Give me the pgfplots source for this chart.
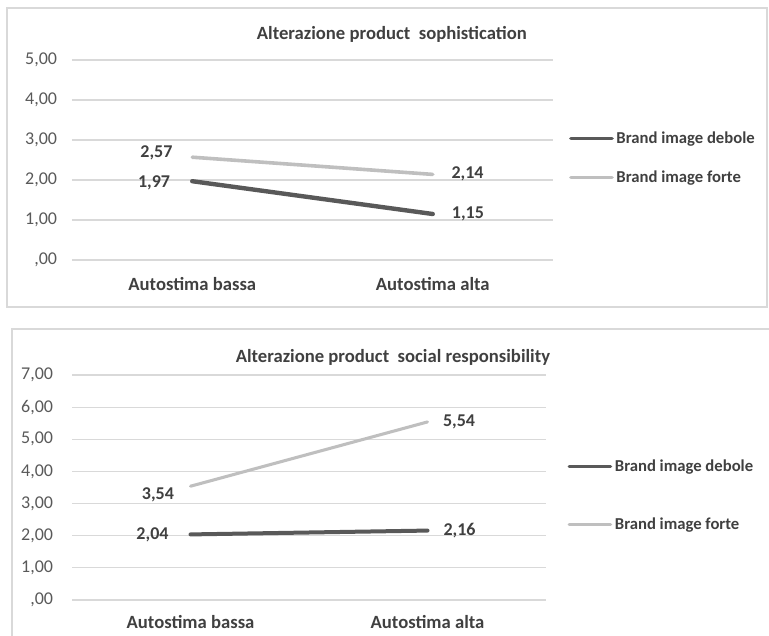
\documentclass[border=0pt]{standalone}
\usepackage{fontspec}
\setmainfont{Carlito}
\usepackage{pgfplots}
\pgfplotsset{compat=1.18}
\definecolor{dk}{HTML}{595959}
\definecolor{lt}{HTML}{BFBFBF}
\definecolor{gridc}{HTML}{D9D9D9}
\definecolor{txt}{HTML}{404040}
\definecolor{tickc}{HTML}{595959}
\definecolor{borderc}{HTML}{D9D9D9}

\pgfplotsset{
  mystyle/.style={
    scale only axis, clip=false,
    xmin=-0.5, xmax=1.5,
    xtick={0,1}, xticklabels={Autostima bassa, Autostima alta},
    axis line style={draw=none},
    major tick length=0pt,
    ymajorgrids, grid style={gridc, line width=0.9pt},
    xticklabel style={font=\fontsize{14}{16}\selectfont\bfseries, text=txt, anchor=base, inner sep=0pt},
    yticklabel style={font=\fontsize{13.5}{16}\selectfont, text=tickc, anchor=east, inner sep=0pt},
    legend style={draw=none, fill=none, font=\fontsize{12.5}{15}\selectfont\bfseries, text=txt, inner sep=0pt},
    legend cell align=left,
    legend image code/.code={\draw[##1, line width=2.5pt, line cap=round] (0pt,0pt) -- (31pt,0pt);},
  },
  lab/.style={
    nodes near coords, point meta=explicit symbolic,
    visualization depends on={value \thisrow{anc}\as\anc},
    visualization depends on={value \thisrow{dx}\as\dx},
    visualization depends on={value \thisrow{dy}\as\dy},
    every node near coord/.append style={anchor=\anc, xshift=\dx pt, yshift=\dy pt,
      font=\fontsize{13.5}{16}\selectfont\bfseries, text=txt, inner sep=0pt},
  },
}

\begin{document}
\begin{tikzpicture}
\path[use as bounding box] (0,0) rectangle (576.75pt,477pt);
\clip (0,0) rectangle (576.75pt,477pt);
\draw[borderc, line width=1.1pt] (5.25pt,246.75pt) rectangle (575.25pt,471pt);
\draw[borderc, line width=1.1pt] (9pt,-5pt) rectangle (590pt,230.25pt);

% Top chart
\begin{axis}[mystyle,
  at={(54pt,282pt)}, anchor=south west,
  width=360.75pt, height=150pt,
  ymin=0, ymax=5, ytick={0,1,2,3,4,5},
  yticklabels={{,00},{1,00},{2,00},{3,00},{4,00},{5,00}},
  yticklabel style={xshift=-11pt},
  xticklabel style={yshift=-23pt},
  legend style={at={(1.033,0.51)}, anchor=west, row sep=14.5pt},
]
\addplot[dk, line width=3.3pt, line cap=round, lab] table[x=x, y=y, meta=lab] {
x y lab anc dx dy
0 1.97 1,97 east -15 -1.5
1 1.15 1,15 west 12.75 0
};
\addlegendentry{Brand image debole}
\addplot[lt, line width=2.7pt, line cap=round, lab] table[x=x, y=y, meta=lab] {
x y lab anc dx dy
0 2.57 2,57 east -13.5 3
1 2.14 2,14 west 12.75 0.5
};
\addlegendentry{Brand image forte}
\node[font=\fontsize{14}{16}\selectfont\bfseries, text=txt] at (axis description cs:0.665,1.13) {Alterazione product\ \ sophistication};
\end{axis}

% Bottom chart
\begin{axis}[mystyle,
  at={(54pt,27pt)}, anchor=south west,
  width=355.5pt, height=168.75pt,
  ymin=0, ymax=7, ytick={0,1,2,3,4,5,6,7},
  yticklabels={{,00},{1,00},{2,00},{3,00},{4,00},{5,00},{6,00},{7,00}},
  yticklabel style={xshift=-14pt},
  xticklabel style={yshift=-21.75pt},
  legend style={at={(1.045,0.465)}, anchor=west, row sep=29pt},
]
\addplot[dk, line width=3pt, line cap=round, lab] table[x=x, y=y, meta=lab] {
x y lab anc dx dy
0 2.04 2,04 east -15 0
1 2.16 2,16 west 10.5 0
};
\addlegendentry{Brand image debole}
\addplot[lt, line width=2.3pt, line cap=round, lab] table[x=x, y=y, meta=lab] {
x y lab anc dx dy
0 3.54 3,54 east -11.25 -6.75
1 5.54 5,54 west 10.5 0
};
\addlegendentry{Brand image forte}
\node[font=\fontsize{14}{16}\selectfont\bfseries, text=txt] at (axis description cs:0.677,1.08) {Alterazione product\ \ social responsibility};
\end{axis}
\end{tikzpicture}
\end{document}
